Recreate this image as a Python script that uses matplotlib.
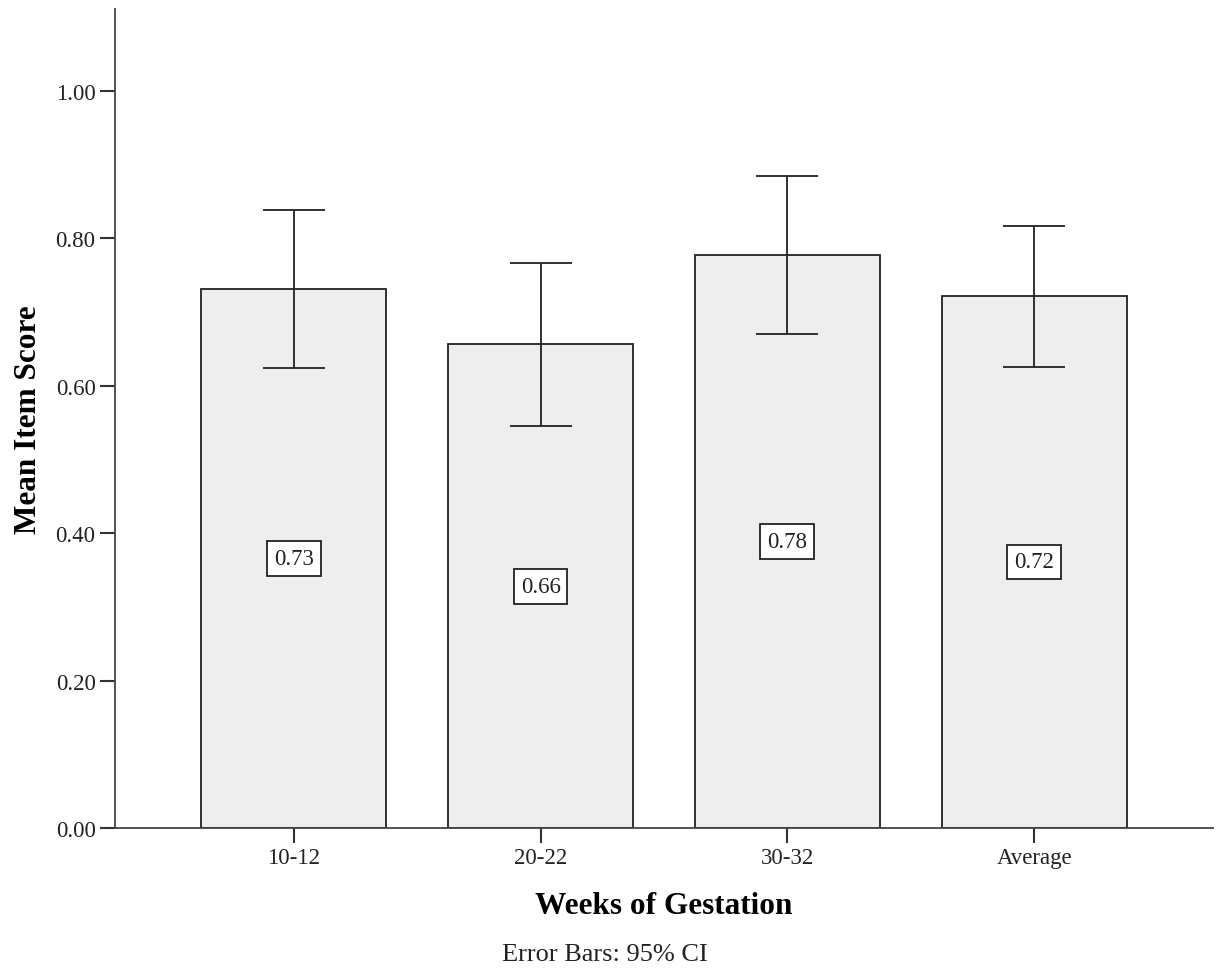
import matplotlib
matplotlib.use("Agg")
import matplotlib.pyplot as plt
import numpy as np

categories = ["10-12", "20-22", "30-32", "Average"]
means = [0.731, 0.656, 0.777, 0.722]
ci_low = [0.624, 0.545, 0.670, 0.626]
ci_high = [0.838, 0.767, 0.884, 0.817]
value_labels = ["0.73", "0.66", "0.78", "0.72"]
yticks = [0.0, 0.2, 0.4, 0.6, 0.8, 1.0]

plt.rcParams['font.family'] = ['Liberation Serif', 'DejaVu Serif']

fig = plt.figure(figsize=(12.17, 9.79), dpi=100)
ax = fig.add_axes([115/1217, 1-829/979, (1213-115)/1217, (829-10)/979])

x = np.arange(len(categories))
means_a = np.array(means)
lo = means_a - np.array(ci_low)
hi = np.array(ci_high) - means_a

ax.bar(x, means, width=0.75, color="#eeeeee", edgecolor="#222222", linewidth=1.3, zorder=2)
ax.errorbar(x, means, yerr=[lo, hi], fmt='none', ecolor="#222222", elinewidth=1.3,
            capsize=22, capthick=1.3, zorder=3)

for xi, m, t in zip(x, means, value_labels):
    ax.text(xi, m/2, t, ha='center', va='center', fontsize=16.5, color="#222222", zorder=4,
            bbox=dict(boxstyle='square,pad=0.3', facecolor='white', edgecolor='#222222', linewidth=1.3))

ax.set_xlim(-0.725, 3.725)
ax.set_ylim(0, 1.111)
ax.set_yticks(yticks)
ax.set_yticklabels([f"{v:.2f}" for v in yticks])
ax.set_xticks(x)
ax.set_xticklabels(categories)

for s in ['top', 'right']:
    ax.spines[s].set_visible(False)
for s in ['left', 'bottom']:
    ax.spines[s].set_color('#444444')
    ax.spines[s].set_linewidth(1.3)

ax.tick_params(axis='both', direction='out', length=11, width=1.5, color='#333333',
               labelsize=16.5, labelcolor='#222222', pad=3)

ax.set_ylabel("Mean Item Score", fontsize=22.5, fontweight='bold', labelpad=9)
ax.set_xlabel("Weeks of Gestation", fontsize=22.5, fontweight='bold', labelpad=16)

fig.text(605/1217, 1-955/979, "Error Bars: 95% CI", ha='center', va='center', fontsize=19, color='#222222')

fig.savefig("out.png", dpi=100)
